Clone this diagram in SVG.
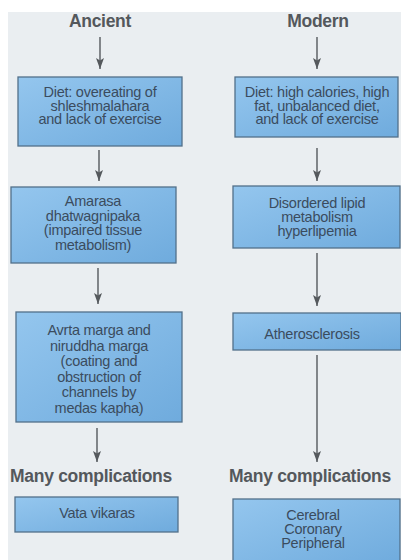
<svg xmlns="http://www.w3.org/2000/svg" width="401" height="560" viewBox="0 0 401 560">
<defs>
<linearGradient id="bf" x1="0" y1="0" x2="1" y2="1">
<stop offset="0" stop-color="#94c6ee"/>
<stop offset="1" stop-color="#6fabdd"/>
</linearGradient>
<marker id="ah" viewBox="0 0 11 8" refX="11" refY="4" markerWidth="11" markerHeight="8" markerUnits="userSpaceOnUse" orient="auto">
<path d="M0,0 L11,4 L0,8 L2.5,4 Z" fill="#55595d"/>
</marker>
</defs>
<style>
.box{fill:url(#bf);stroke:#52708a;stroke-width:1.3}
.t{font-family:"Liberation Sans",Arial,sans-serif;font-size:14.5px;fill:#3b4c5e;text-anchor:middle;letter-spacing:-0.25px}
.h{font-family:"Liberation Sans",Arial,sans-serif;font-size:17.5px;font-weight:bold;fill:#54585c;text-anchor:middle;letter-spacing:-0.3px}
.c{stroke:#55595d;stroke-width:1.4;fill:none}
</style>
<rect x="0" y="0" width="401" height="560" fill="#ffffff"/>
<rect x="8" y="12" width="393" height="548" fill="#eaeef1"/>

<g id="title-ancient"><text class="h" x="100" y="27">Ancient</text></g>
<g id="title-modern"><text class="h" x="318" y="27">Modern</text></g>

<g id="connectors">
<line class="c" x1="100" y1="37" x2="100" y2="69" marker-end="url(#ah)"/>
<line class="c" x1="99" y1="150" x2="99" y2="181" marker-end="url(#ah)"/>
<line class="c" x1="98" y1="268" x2="98" y2="304" marker-end="url(#ah)"/>
<line class="c" x1="97" y1="428" x2="97" y2="462" marker-end="url(#ah)"/>
<line class="c" x1="317" y1="37" x2="317" y2="69" marker-end="url(#ah)"/>
<line class="c" x1="317" y1="148" x2="317" y2="181" marker-end="url(#ah)"/>
<line class="c" x1="317" y1="253" x2="317" y2="306" marker-end="url(#ah)"/>
<line class="c" x1="317" y1="355" x2="317" y2="462" marker-end="url(#ah)"/>
</g>

<g id="box-l1">
<rect class="box" x="18" y="77" width="164" height="69"/>
<text class="t" x="100" y="97">Diet: overeating of</text>
<text class="t" x="100" y="110.5">shleshmalahara</text>
<text class="t" x="100" y="124">and lack of exercise</text>
</g>
<g id="box-l2">
<rect class="box" x="11" y="187" width="165" height="76"/>
<text class="t" x="93" y="206">Amarasa</text>
<text class="t" x="93" y="220.5">dhatwagnipaka</text>
<text class="t" x="93" y="235">(impaired tissue</text>
<text class="t" x="93" y="249.5">metabolism)</text>
</g>
<g id="box-l3">
<rect class="box" x="16" y="312" width="166" height="110"/>
<text class="t" x="99" y="335">Avrta marga and</text>
<text class="t" x="99" y="350.5">niruddha marga</text>
<text class="t" x="99" y="366">(coating and</text>
<text class="t" x="99" y="381.5">obstruction of</text>
<text class="t" x="99" y="397">channels by</text>
<text class="t" x="99" y="412.5">medas kapha)</text>
</g>
<g id="title-l-comp"><text class="h" x="91" y="482">Many complications</text></g>
<g id="box-l4">
<rect class="box" x="15" y="497" width="163" height="35"/>
<text class="t" x="97" y="518">Vata vikaras</text>
</g>

<g id="box-r1">
<rect class="box" x="235" y="77" width="163" height="60"/>
<text class="t" x="317" y="97">Diet: high calories, high</text>
<text class="t" x="317" y="110.5">fat, unbalanced diet,</text>
<text class="t" x="317" y="124">and lack of exercise</text>
</g>
<g id="box-r2">
<rect class="box" x="233" y="186" width="167" height="62"/>
<text class="t" x="317" y="208">Disordered lipid</text>
<text class="t" x="317" y="222">metabolism</text>
<text class="t" x="317" y="236">hyperlipemia</text>
</g>
<g id="box-r3">
<rect class="box" x="233" y="313" width="168" height="37"/>
<text class="t" x="312" y="339">Atherosclerosis</text>
</g>
<g id="title-r-comp"><text class="h" x="310" y="482">Many complications</text></g>
<g id="box-r4">
<rect class="box" x="233" y="499" width="167" height="65"/>
<text class="t" x="313" y="520">Cerebral</text>
<text class="t" x="313" y="534">Coronary</text>
<text class="t" x="313" y="548">Peripheral</text>
</g>
</svg>
